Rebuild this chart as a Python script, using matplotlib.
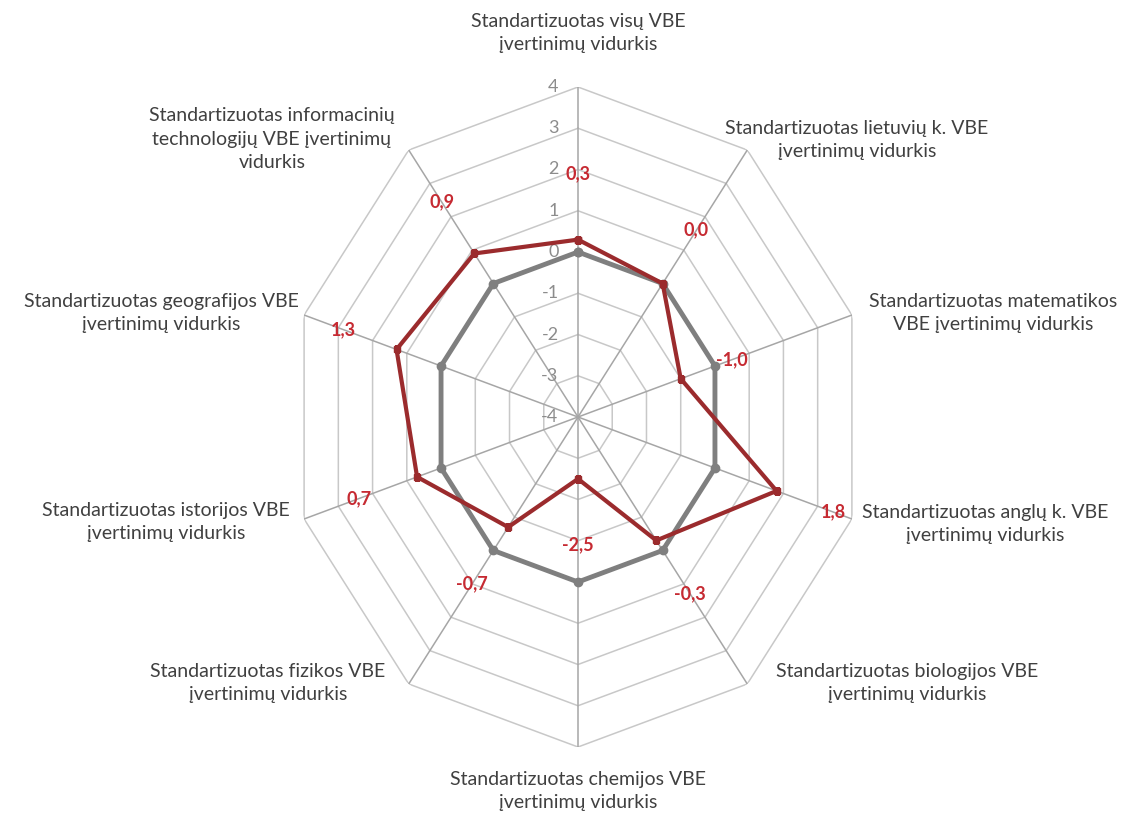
import numpy as np
import matplotlib
matplotlib.use('Agg')
import matplotlib.pyplot as plt

categories = [
    "Standartizuotas visų VBE\nįvertinimų vidurkis",
    "Standartizuotas lietuvių k. VBE\nįvertinimų vidurkis",
    "Standartizuotas matematikos\nVBE įvertinimų vidurkis",
    "Standartizuotas anglų k. VBE\nįvertinimų vidurkis",
    "Standartizuotas biologijos VBE\nįvertinimų vidurkis",
    "Standartizuotas chemijos VBE\nįvertinimų vidurkis",
    "Standartizuotas fizikos VBE\nįvertinimų vidurkis",
    "Standartizuotas istorijos VBE\nįvertinimų vidurkis",
    "Standartizuotas geografijos VBE\nįvertinimų vidurkis",
    "Standartizuotas informacinių\ntechnologijų VBE įvertinimų\nvidurkis",
]
school = [0.3, 0.0, -1.0, 1.8, -0.3, -2.5, -0.7, 0.7, 1.3, 0.9]
average = [0, 0, 0, 0, 0, 0, 0, 0, 0, 0]
ticks = [-4, -3, -2, -1, 0, 1, 2, 3, 4]

# label placement (pixel centers in the 1128x821 figure)
cat_pos = [(578, 33), (857, 140), (993, 313), (985, 524), (907, 683),
           (578, 791), (268, 683), (166, 522), (161, 313), (272, 139)]
# radius (in data units) where the red value labels sit
val_r = [1.9, 1.6, 0.5, 3.45, 1.3, -0.9, 1.0, 2.4, 2.85, 2.45]

W, H = 1128, 821
fig = plt.figure(figsize=(W / 100, H / 100), dpi=100)
plt.rcParams['font.family'] = ['Lato', 'DejaVu Sans']

# the original chart is squeezed horizontally
cx, cy, Rx, Ry = 578, 417, 288, 330
ax = fig.add_axes([(cx - Rx) / W, (H - cy - Ry) / H, 2 * Rx / W, 2 * Ry / H],
                  projection='polar')
ax.set_aspect('auto')
ax.set_theta_zero_location('N')
ax.set_theta_direction(-1)
ax.set_ylim(-4, 4)
ax.grid(False)
ax.spines['polar'].set_visible(False)
ax.set_xticks([])
ax.set_yticks([])
ax.patch.set_alpha(0)

n = len(categories)
theta = np.linspace(0, 2 * np.pi, n, endpoint=False)
theta_c = np.append(theta, theta[0])

# polygon rings
for t in ticks[1:]:
    ax.plot(theta_c, [t] * (n + 1), color='#c8c8c8', lw=1.1, zorder=1)
# spokes
for th in theta:
    ax.plot([th, th], [-4, 4], color='#a6a6a6', lw=1.1, zorder=1)

# radial tick labels
for t in ticks:
    ax.annotate(str(t), (0, t), xytext=(-14, 0), textcoords='offset points',
                ha='right', va='center', fontsize=13, color='#8c8c8c')

ax.plot(theta_c, average + average[:1], color='#7f7f7f', lw=3.5,
        marker='o', ms=6, zorder=3)
ax.plot(theta_c, school + school[:1], color='#9b2b2d', lw=3,
        marker='s', ms=5, zorder=4)

for th, v, r in zip(theta, school, val_r):
    ax.text(th, r, f"{v:.1f}".replace('.', ','), color='#c62a32',
            fontsize=13, fontweight='bold', ha='center', va='center', zorder=5)

for lab, (x, y) in zip(categories, cat_pos):
    fig.text(x / W, 1 - y / H, lab, ha='center', va='center',
             fontsize=14, color='#404040', linespacing=1.45)

fig.savefig('out.png', dpi=100)
